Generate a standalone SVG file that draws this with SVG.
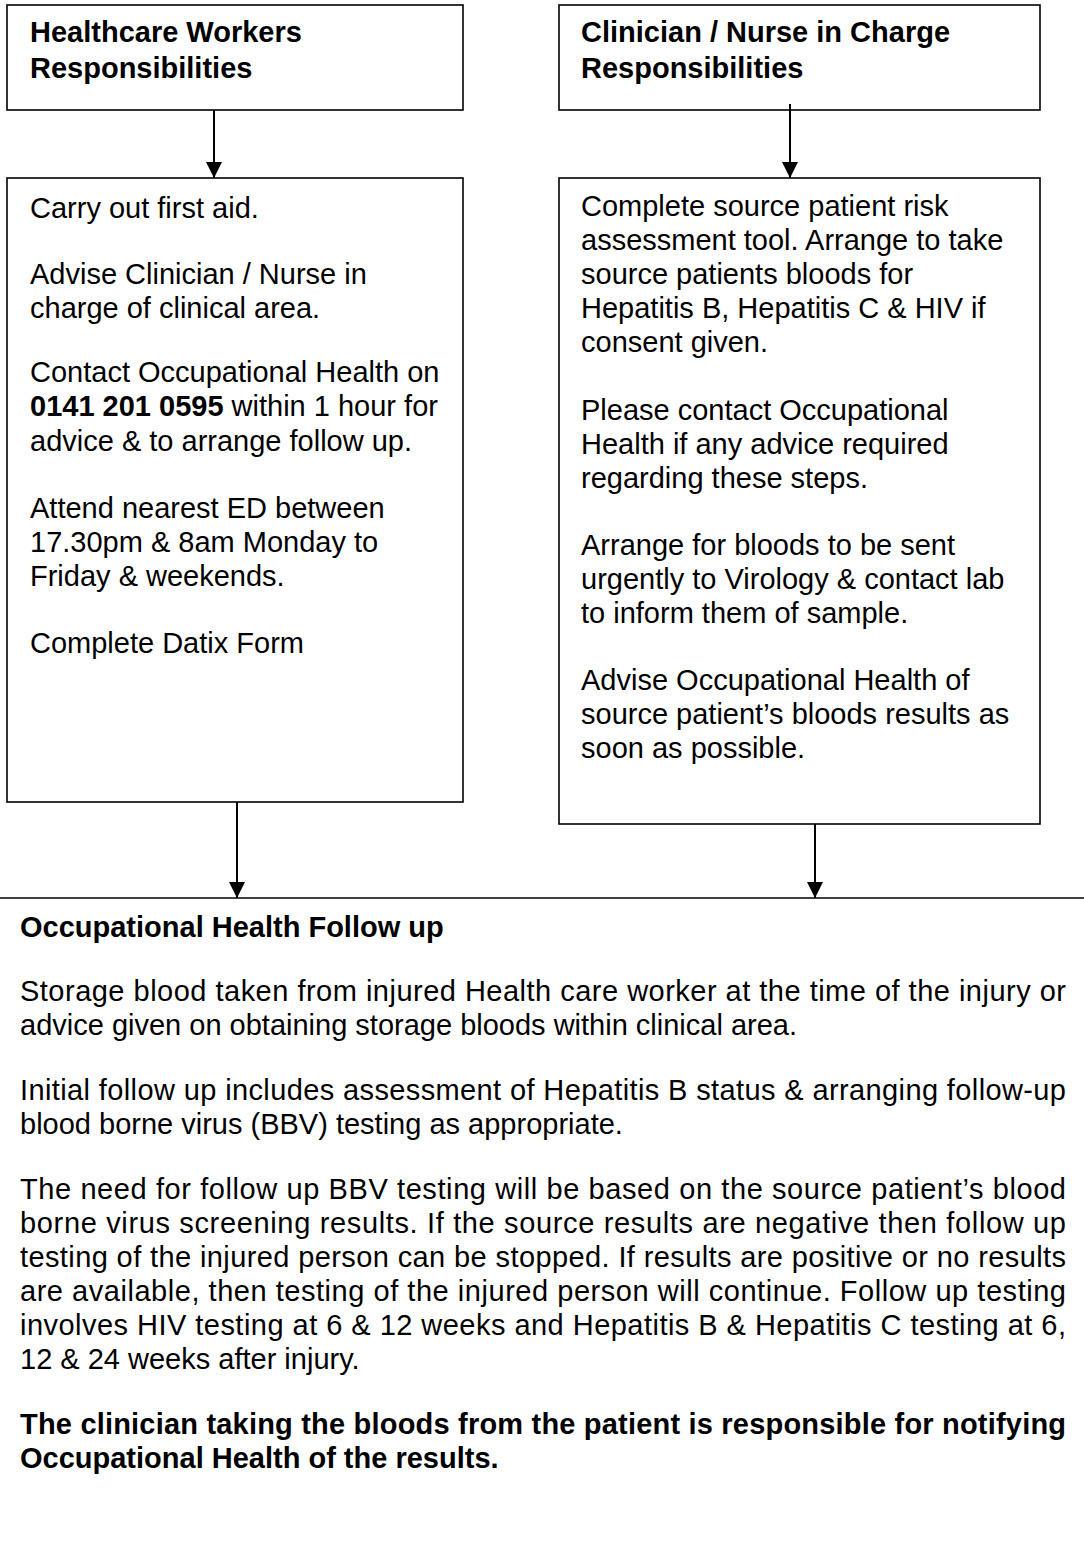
<svg xmlns="http://www.w3.org/2000/svg" width="1084" height="1557" viewBox="0 0 1084 1557">
<defs>
<marker id="ah" markerWidth="16" markerHeight="16" refX="16" refY="8" orient="auto" markerUnits="userSpaceOnUse" viewBox="0 0 16 16">
<path d="M0,0 L16,8 L0,16 Z" fill="#000"/>
</marker>
<style>
.box{fill:#fff;stroke:#000;stroke-width:1.6}
.t{font-family:"Liberation Sans",Arial,sans-serif;font-size:29px;fill:#000}
.b{font-weight:bold}
.conn{stroke:#000;stroke-width:2;fill:none}
</style>
</defs>
<rect width="1084" height="1557" fill="#fff"/>
<g id="hcw-title">
<rect class="box" x="7" y="5" width="456" height="105"/>
<text class="t b" x="30" y="42">Healthcare Workers</text>
<text class="t b" x="30" y="78">Responsibilities</text>
</g>
<g id="cn-title">
<rect class="box" x="559" y="5" width="481" height="105"/>
<text class="t b" x="581" y="42">Clinician / Nurse in Charge</text>
<text class="t b" x="581" y="78">Responsibilities</text>
</g>
<g id="hcw-steps">
<rect class="box" x="7" y="178" width="456" height="624"/>
<text class="t" x="30" y="218">Carry out first aid.</text>
<text class="t" x="30" y="284">Advise Clinician / Nurse in</text>
<text class="t" x="30" y="318">charge of clinical area.</text>
<text class="t" x="30" y="382">Contact Occupational Health on</text>
<text class="t" x="30" y="416"><tspan class="b">0141 201 0595</tspan> within 1 hour for</text>
<text class="t" x="30" y="451">advice &amp; to arrange follow up.</text>
<text class="t" x="30" y="518">Attend nearest ED between</text>
<text class="t" x="30" y="552">17.30pm &amp; 8am Monday to</text>
<text class="t" x="30" y="586">Friday &amp; weekends.</text>
<text class="t" x="30" y="653">Complete Datix Form</text>
</g>
<g id="cn-steps">
<rect class="box" x="559" y="178" width="481" height="646"/>
<text class="t" x="581" y="216">Complete source patient risk</text>
<text class="t" x="581" y="250">assessment tool. Arrange to take</text>
<text class="t" x="581" y="284">source patients bloods for</text>
<text class="t" x="581" y="318">Hepatitis B, Hepatitis C &amp; HIV if</text>
<text class="t" x="581" y="352">consent given.</text>
<text class="t" x="581" y="420">Please contact Occupational</text>
<text class="t" x="581" y="454">Health if any advice required</text>
<text class="t" x="581" y="488">regarding these steps.</text>
<text class="t" x="581" y="555">Arrange for bloods to be sent</text>
<text class="t" x="581" y="589">urgently to Virology &amp; contact lab</text>
<text class="t" x="581" y="623">to inform them of sample.</text>
<text class="t" x="581" y="690">Advise Occupational Health of</text>
<text class="t" x="581" y="724">source patient’s bloods results as</text>
<text class="t" x="581" y="758">soon as possible.</text>
</g>
<g id="oh-followup">
<line x1="0" y1="898" x2="1084" y2="898" stroke="#000" stroke-width="1.6"/>
<text class="t b" x="20" y="937">Occupational Health Follow up</text>
<text class="t" x="20" y="1001" textLength="1046" lengthAdjust="spacing">Storage blood taken from injured Health care worker at the time of the injury or</text>
<text class="t" x="20" y="1035">advice given on obtaining storage bloods within clinical area.</text>
<text class="t" x="20" y="1100" textLength="1046" lengthAdjust="spacing">Initial follow up includes assessment of Hepatitis B status &amp; arranging follow-up</text>
<text class="t" x="20" y="1134">blood borne virus (BBV) testing as appropriate.</text>
<text class="t" x="20" y="1199" textLength="1046" lengthAdjust="spacing">The need for follow up BBV testing will be based on the source patient’s blood</text>
<text class="t" x="20" y="1233" textLength="1046" lengthAdjust="spacing">borne virus screening results. If the source results are negative then follow up</text>
<text class="t" x="20" y="1267" textLength="1046" lengthAdjust="spacing">testing of the injured person can be stopped. If results are positive or no results</text>
<text class="t" x="20" y="1301" textLength="1046" lengthAdjust="spacing">are available, then testing of the injured person will continue. Follow up testing</text>
<text class="t" x="20" y="1335" textLength="1046" lengthAdjust="spacing">involves HIV testing at 6 &amp; 12 weeks and Hepatitis B &amp; Hepatitis C testing at 6,</text>
<text class="t" x="20" y="1369">12 &amp; 24 weeks after injury.</text>
<text class="t b" x="20" y="1434" textLength="1046" lengthAdjust="spacing">The clinician taking the bloods from the patient is responsible for notifying</text>
<text class="t b" x="20" y="1468">Occupational Health of the results.</text>
</g>
<g id="connectors">
<line class="conn" x1="214" y1="110" x2="214" y2="178" marker-end="url(#ah)"/>
<line class="conn" x1="790" y1="104" x2="790" y2="178" marker-end="url(#ah)"/>
<line class="conn" x1="237" y1="802" x2="237" y2="898" marker-end="url(#ah)"/>
<line class="conn" x1="815" y1="824" x2="815" y2="898" marker-end="url(#ah)"/>
</g>
</svg>
